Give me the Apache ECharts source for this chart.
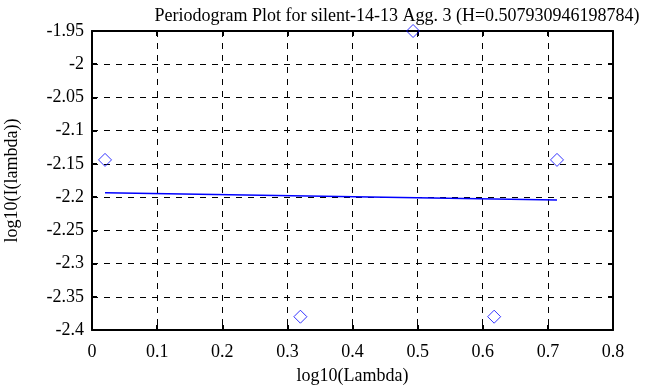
<!DOCTYPE html>
<html><head><meta charset="utf-8">
<script src="https://cdn.jsdelivr.net/npm/echarts@6/dist/echarts.min.js"></script>
<style>html,body{margin:0;padding:0;background:#fff}#c{width:668px;height:387px}</style>
</head><body><div id="c"></div>
<script>
var titleText = "Periodogram Plot for silent-14-13 Agg. 3 (H=0.507930946198784)";
var xName = "log10(Lambda)";
var yName = "log10(I(lambda))";
var pointX = [0.02, 0.32, 0.493, 0.6175, 0.714];
var pointY = [-2.144, -2.380, -1.95, -2.380, -2.144];
var fitX = [0.02, 0.714];
var fitY = [-2.1935, -2.2045];

var pts = pointX.map(function(x,i){return [x, pointY[i]];});
var fit = fitX.map(function(x,i){return [x, fitY[i]];});
var font = "Liberation Serif";
var chart = echarts.init(document.getElementById('c'));
var gridLine = {show:true, lineStyle:{color:'#000', type:[6,6], width:1}};
chart.setOption({
  animation:false,
  backgroundColor:'#fff',
  title:{text:titleText, left:392, top:2, textAlign:'center',
    textStyle:{fontFamily:font, fontWeight:'normal', fontSize:18, color:'#000'}},
  grid:{left:92, right:55, top:31, bottom:57, containLabel:false, outerBoundsMode:'none'},
  xAxis:[{type:'value', min:0, max:0.8, interval:0.1, position:'bottom',
    name:xName, nameLocation:'middle', nameGap:37,
    nameTextStyle:{fontFamily:font, fontSize:18, color:'#000'},
    axisLine:{show:true, onZero:false, lineStyle:{color:'#000', width:2}},
    axisTick:{show:true, inside:true, length:5, lineStyle:{color:'#000', width:2}},
    axisLabel:{fontFamily:font, fontSize:18, color:'#000', margin:13},
    splitLine:gridLine},
   {type:'value', min:0, max:0.8, interval:0.1, position:'top',
    axisLine:{show:true, onZero:false, lineStyle:{color:'#000', width:2}},
    axisTick:{show:true, inside:true, length:5, lineStyle:{color:'#000', width:2}},
    axisLabel:{show:false}, splitLine:{show:false}}],
  yAxis:[{type:'value', min:-2.4, max:-1.95, interval:0.05, position:'left',
    name:yName, nameLocation:'middle', nameGap:71,
    nameTextStyle:{fontFamily:font, fontSize:18, color:'#000'},
    axisLine:{show:true, onZero:false, lineStyle:{color:'#000', width:2}},
    axisTick:{show:true, inside:true, length:5, lineStyle:{color:'#000', width:2}},
    axisLabel:{fontFamily:font, fontSize:18, color:'#000', margin:8},
    splitLine:gridLine},
   {type:'value', min:-2.4, max:-1.95, interval:0.05, position:'right',
    axisLine:{show:true, onZero:false, lineStyle:{color:'#000', width:2}},
    axisTick:{show:true, inside:true, length:5, lineStyle:{color:'#000', width:2}},
    axisLabel:{show:false}, splitLine:{show:false}}],
  series:[
    {type:'line', data:fit, showSymbol:false, symbol:'none',
     lineStyle:{color:'#0000ff', width:1.5}, z:3},
    {type:'scatter', data:pts, symbol:'diamond', symbolSize:13, clip:false,
     itemStyle:{color:'rgba(0,0,0,0)', borderColor:'#0000ff', borderWidth:1}, z:4}
  ]
});
</script></body></html>
